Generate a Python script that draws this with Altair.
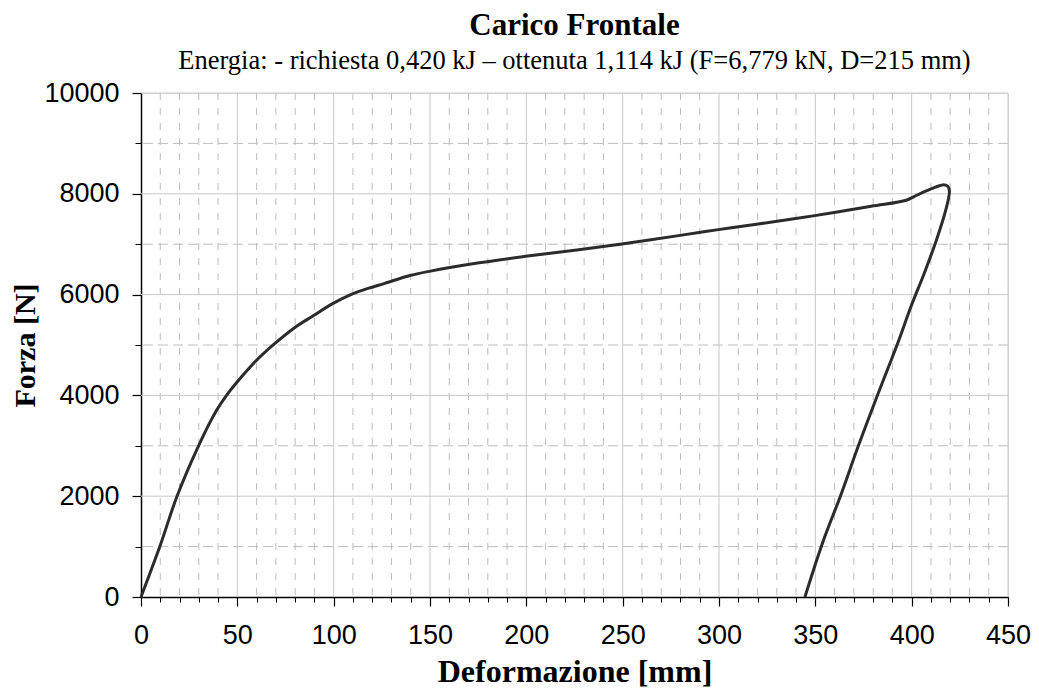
import altair as alt
import pandas as pd

# Curve (Deformazione [mm], Forza [N]) in drawing order
deformazione = [0, 10, 18.6, 30, 39.3, 44.5, 50, 59.2, 69.5, 79.9, 89.4, 99.7, 109.2,
                117.8, 126.5, 139.2, 149.6, 175.5, 199.6, 227.2, 249.6, 279, 299.7,
                320.4, 349.7, 379, 397.2, 401.5, 410.1, 416.1, 418.7, 419.6, 417.5,
                413, 406.6, 399.7, 392.8, 381.5, 372.2, 363, 354, 344.6]
forza = [0, 1026, 1990, 3010, 3708, 4006, 4270, 4667, 5031, 5349, 5581, 5826, 6005,
         6124, 6223, 6375, 6461, 6630, 6759, 6892, 7005, 7170, 7289,
         7402, 7567, 7752, 7871, 7951, 8097, 8177, 8150, 8050, 7650,
         7100, 6430, 5770, 5040, 3930, 2985, 2000, 1100, 0]

x_major = [0, 50, 100, 150, 200, 250, 300, 350, 400, 450]
x_minor = [v for v in range(10, 450, 10) if v % 50 != 0]
y_major = [0, 2000, 4000, 6000, 8000, 10000]
y_minor = [1000, 3000, 5000, 7000, 9000]

title_text = "Carico Frontale"
subtitle_text = "Energia: - richiesta 0,420 kJ – ottenuta 1,114 kJ (F=6,779 kN, D=215 mm)"
x_title = "Deformazione [mm]"
y_title = "Forza [N]"

curve = pd.DataFrame({"x": deformazione, "y": forza, "i": list(range(len(forza)))})

xs = alt.Scale(domain=[0, 450], nice=False, zero=False)
ys = alt.Scale(domain=[0, 10000], nice=False, zero=False)

grid_major_col = "#c8c8c8"
grid_minor_col = "#bdbdbd"

gx_major = alt.Chart(pd.DataFrame({"v": x_major[1:]})).mark_rule(
    color=grid_major_col, strokeWidth=1).encode(x=alt.X("v:Q", scale=xs, axis=None))
gx_minor = alt.Chart(pd.DataFrame({"v": x_minor})).mark_rule(
    color=grid_minor_col, strokeWidth=1, strokeDash=[7, 8]).encode(x=alt.X("v:Q", scale=xs, axis=None))
gy_major = alt.Chart(pd.DataFrame({"v": y_major[1:]})).mark_rule(
    color=grid_major_col, strokeWidth=1).encode(y=alt.Y("v:Q", scale=ys, axis=None))
gy_minor = alt.Chart(pd.DataFrame({"v": y_minor})).mark_rule(
    color=grid_minor_col, strokeWidth=1, strokeDash=[10, 5]).encode(y=alt.Y("v:Q", scale=ys, axis=None))

label_font = "Liberation Sans"
title_font = "Liberation Serif"

minor_ticks = alt.Chart(curve).mark_point(opacity=0).encode(
    x=alt.X("x:Q", scale=xs, axis=alt.Axis(
        orient="bottom", values=x_minor + x_major, tickSize=5, labels=False, domain=False,
        grid=False, title=None, tickColor="black", tickWidth=1)),
    y=alt.Y("y:Q", scale=ys, axis=alt.Axis(
        orient="left", values=y_minor + y_major, tickSize=6, labels=False, domain=False,
        grid=False, title=None, tickColor="black", tickWidth=1)),
)

line = alt.Chart(curve).mark_line(color="#2b2b2b", strokeWidth=3, strokeJoin="round",
                                  interpolate="catmull-rom").encode(
    x=alt.X("x:Q", scale=xs, axis=alt.Axis(
        orient="bottom", values=x_major, tickSize=9, labelPadding=16, grid=False, format="d",
        domainColor="black", domainWidth=1.5, tickColor="black", tickWidth=1.2,
        labelFont=label_font, labelFontSize=27, labelColor="black", labelFlush=False,
        title=x_title, titleFont=title_font, titleFontSize=32, titleFontWeight="bold",
        titleColor="black", titlePadding=8)),
    y=alt.Y("y:Q", scale=ys, axis=alt.Axis(
        orient="left", values=y_major, tickSize=9, labelPadding=13, grid=False, format="d",
        domainColor="black", domainWidth=1.5, tickColor="black", tickWidth=1.2,
        labelFont=label_font, labelFontSize=27, labelColor="black", labelFlush=False,
        title=y_title, titleFont=title_font, titleFontSize=30, titleFontWeight="bold",
        titleColor="black", titlePadding=3)),
    order="i:Q",
)

chart = alt.layer(gx_minor, gy_minor, gx_major, gy_major, minor_ticks, line).resolve_axis(
    x="independent", y="independent"
).properties(
    width=867, height=504,
    title=alt.TitleParams(
        text=title_text, subtitle=subtitle_text, anchor="middle", frame="group",
        font=title_font, fontSize=31, fontWeight="bold", color="black",
        subtitleFont=title_font, subtitleFontSize=26.5, subtitleColor="black",
        subtitlePadding=6, offset=4),
    autosize=alt.AutoSizeParams(type="none"),
    padding={"left": 133, "top": 85, "right": 23, "bottom": 90},
).configure_view(stroke=None).configure(background="white")

chart.save("out.html", embed_options={"renderer": "svg", "actions": False})
